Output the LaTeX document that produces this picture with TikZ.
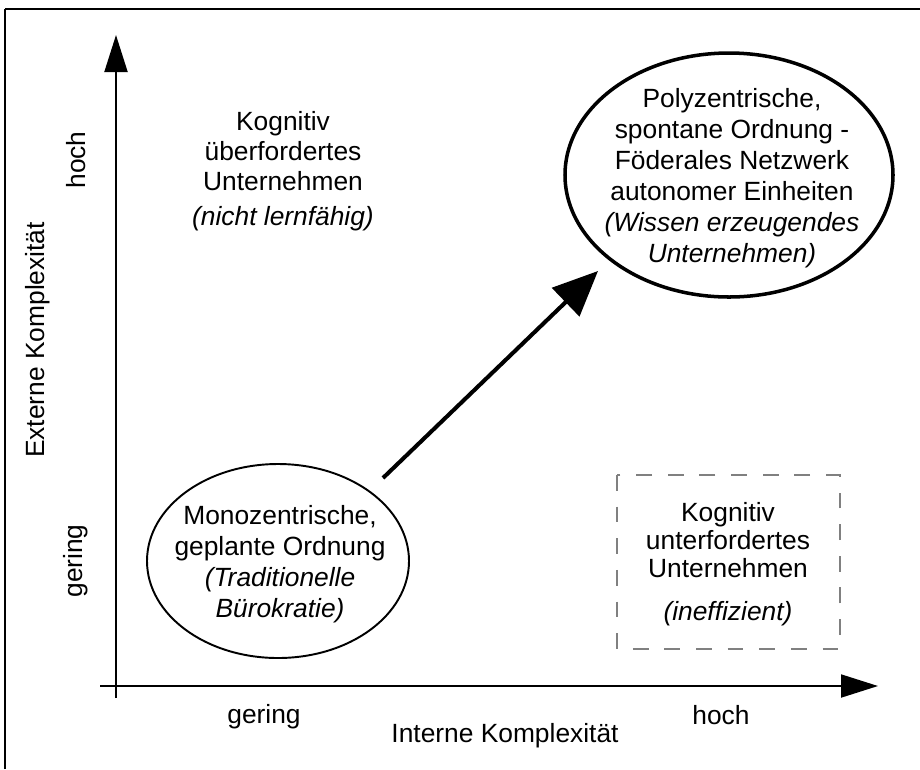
\documentclass[tikz,border=0pt]{standalone}
\usepackage{fontspec}
\setmainfont{Liberation Sans}
\usetikzlibrary{arrows.meta}
\tikzset{
  txt/.style={inner sep=0pt, align=center, font=\fontsize{15}{17}\selectfont},
  axis/.style={line width=1.1pt, -{Triangle[length=0.74cm, width=0.46cm]}},
}
\begin{document}
\begin{tikzpicture}[x=0.02cm, y=-0.02cm]
            \useasboundingbox (0,0) rectangle (920,769);
            \node  (0) at (5, 769) {};
            \node  (1) at (5, 9) {};
            \node  (2) at (920, 9) {};
            \node  (3) at (116, 698) {};
            \node  (4) at (116, 35) {};
            \node  (5) at (100, 686) {};
            \node  (6) at (878, 686) {};
            \node  (7) at (383, 478) {};
            \node  (8) at (598, 271) {};
            \node  (9) at (617, 475) {};
            \node  (10) at (840, 649) {};
            \node  (11) at (278, 561) {};
            \node  (12) at (729, 175) {};
            \node [txt, rotate=90] (13) at (76, 160) {hoch};
            \node [txt, rotate=90] (14) at (76, 561) {gering};
            \node [txt, rotate=90] (15) at (38, 340) {Externe Komplexität};
            \node [txt] (16) at (264, 717) {gering};
            \node [txt] (17) at (721, 715) {hoch};
            \node [txt] (18) at (505, 736) {Interne Komplexität};
            \node [txt] (19) at (283, 171) {Kognitiv\\überfordertes\\Unternehmen\\[3pt]\textit{(nicht lernfähig)}};
            \node [txt, font=\fontsize{15}{17.6}\selectfont] (20) at (280, 564) {Monozentrische,\\geplante Ordnung\\\textit{(Traditionelle}\\\textit{Bürokratie)}};
            \node [txt, font=\fontsize{15}{17.6}\selectfont] (21) at (732, 178) {Polyzentrische,\\spontane Ordnung -\\Föderales Netzwerk\\autonomer Einheiten\\\textit{(Wissen erzeugendes}\\\textit{Unternehmen)}};
            \node [txt, font=\fontsize{15}{16}\selectfont] (22) at (728, 564) {Kognitiv\\unterfordertes\\Unternehmen\\[8pt]\textit{(ineffizient)}};
            \draw [line width=1.1pt] (0.center) to (1.center);
            \draw [line width=1.1pt] (1.center) to (2.center);
            \draw [axis] (3.center) to (4.center);
            \draw [axis] (5.center) to (6.center);
            \draw [line width=2.3pt, -{Triangle[length=0.9cm, width=0.78cm]}] (7.center) to (8.center);
            \draw [gray, line width=0.6pt, dash pattern=on 9pt off 9pt] (9.center) rectangle (10.center);
            \draw [line width=1.1pt] (11.center) ellipse [x radius=131, y radius=97];
            \draw [line width=2pt] (12.center) ellipse [x radius=164, y radius=122];
    \end{tikzpicture}
\end{document}
